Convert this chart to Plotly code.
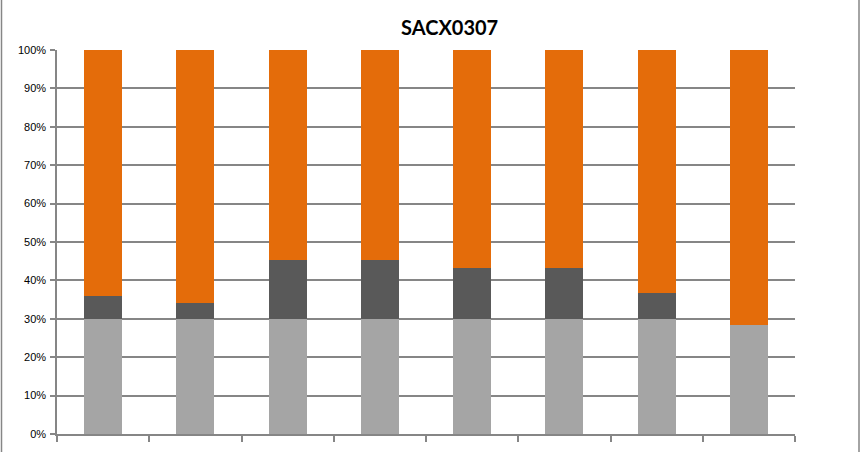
import plotly.graph_objects as go

categories = ["1", "2", "3", "4", "5", "6", "7", "8"]
light = [30, 30, 30, 30, 30, 30, 30, 28.4]
dark = [6.0, 4.0, 15.3, 15.3, 13.3, 13.3, 6.7, 0]
orange = [round(100 - a - b, 1) for a, b in zip(light, dark)]
y_ticks = [0, 10, 20, 30, 40, 50, 60, 70, 80, 90, 100]

fig = go.Figure()
for vals, col in [(light, "#A5A5A5"), (dark, "#595959"), (orange, "#E46C0A")]:
    fig.add_trace(go.Bar(x=categories, y=vals, marker=dict(color=col, line=dict(width=0)),
                         width=0.41, hoverinfo="skip"))

fig.update_layout(
    barmode="stack",
    width=863, height=452,
    margin=dict(l=57, r=68, t=50, b=15),
    paper_bgcolor="white", plot_bgcolor="white",
    showlegend=False,
    title=dict(text="<b>SACX0307</b>", x=0.521, xref="container", xanchor="center",
               y=0.938, yref="container", yanchor="middle",
               font=dict(family="Lato, Liberation Sans, sans-serif", size=20, color="black")),
    font=dict(family="Liberation Sans, Arial, sans-serif", size=11, color="black"),
    shapes=[
        dict(type="line", xref="paper", yref="paper", x0=-55.5/738, x1=-55.5/738, y0=-0.1, y1=1.2,
             line=dict(color="#868686", width=1.5), layer="above"),
        dict(type="line", xref="paper", yref="paper", x0=(859-57)/738, x1=(859-57)/738, y0=-0.1, y1=1.2,
             line=dict(color="#868686", width=1.5), layer="above"),
    ],
)
fig.update_xaxes(showticklabels=False, showline=True, linecolor="#868686", linewidth=1.5,
                 ticks="outside", tickson="boundaries", ticklen=6, tickcolor="#868686",
                 tickwidth=1.5, showgrid=False, zeroline=False, range=[-0.5, 7.5])
fig.update_yaxes(range=[0, 100], tickvals=y_ticks, ticktext=[f"{v}%" for v in y_ticks],
                 showline=True, linecolor="#868686", linewidth=1.5,
                 ticks="outside", ticklen=5, tickcolor="#868686", tickwidth=1.5,
                 showgrid=True, gridcolor="#868686", gridwidth=1.5, zeroline=False,
                 ticklabelstandoff=2)

css_js = (
    "var s=document.createElement('style');"
    "s.textContent='html,body{margin:0;padding:0;width:863px;height:452px;overflow:hidden;}"
    " body>div{display:block;}';"
    "document.head.appendChild(s);"
)
fig.write_html("out.html", config={"displayModeBar": False}, post_script=css_js)
